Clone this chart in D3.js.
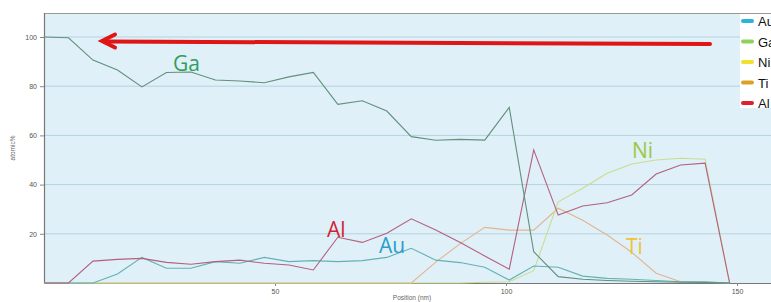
<!DOCTYPE html>
<html><head><meta charset="utf-8">
<script src="https://cdn.jsdelivr.net/npm/d3@7"></script>
<style>body{margin:0;background:#fff;}svg{display:block;}</style>
</head><body>
<svg id="c" width="771" height="302"></svg>
<script>
const positions = [0,5.3,10.6,15.9,21.2,26.5,31.8,37.1,42.4,47.7,53,58.3,63.6,68.9,74.2,79.5,84.8,90.1,95.4,100.7,106,111.3,116.6,121.9,127.2,132.5,137.8,143.1,148.4];
const gaValues = [100,99.7,90.6,86.6,79.7,85.6,85.8,82.5,82.1,81.4,83.8,85.6,72.6,74.1,69.9,59.5,58,58.4,58.1,71.4,12.7,2.6,1.5,1.0,0.7,0.5,0.3,0.2,0];
const auValues = [0,0,0,3.7,10.4,6.0,6.0,8.7,8.0,10.4,8.7,9.1,8.7,9.1,10.4,14.1,9.3,8.3,6.4,1.2,6.9,6.4,2.8,1.9,1.5,1.0,0.5,0.5,0];
const alValues = [0,0,8.9,9.6,10.0,8.4,7.6,8.7,9.3,8.0,7.3,5.3,18.6,16.5,20.2,26.1,21.5,16.5,11.0,5.6,54.1,27.6,31.3,32.6,35.8,44.3,48.0,48.7,0];
const niValues = [0,0,0,0,0,0,0,0,0,0,0,0,0,0,0,0,0,0,0.3,0.5,5.0,33,38.5,44.6,48.4,50,50.7,50.3,0];
const tiValues = [0,0,0,0,0,0,0,0,0,0,0,0,0,0,0,0,8.5,16,22.6,21.5,21.5,30.4,25.5,19.5,12.5,4,0.5,0.3,0];
const legendNames = ["Au","Ga","Ni","Ti","Al"];
const yTicks = [20,40,60,80,100];
const xTicks = [50,100,150];

const svg = d3.select("#c");
const L = 44, T = 13, R = 780, B = 283;
const x = d3.scaleLinear().domain([0,150]).range([L, L + 150*4.62]);
const y = d3.scaleLinear().domain([0,100]).range([B, 37]);

svg.append("rect").attr("x",L).attr("y",T).attr("width",R-L).attr("height",B-T).attr("fill","#dff0f9");
// grid
svg.append("g").selectAll("line").data(yTicks).join("line")
  .attr("x1",L).attr("x2",R).attr("y1",d=>y(d)).attr("y2",d=>y(d))
  .attr("stroke","#b4d3de").attr("stroke-width",1);
// top border
svg.append("line").attr("x1",L).attr("x2",R).attr("y1",T+0.5).attr("y2",T+0.5).attr("stroke","#999").attr("stroke-width",1);

// axes
const yAxis = svg.append("g").attr("transform",`translate(${L},0)`)
  .call(d3.axisLeft(y).tickValues(yTicks).tickSize(4).tickFormat(d3.format("d")));
const xAxis = svg.append("g").attr("transform",`translate(0,${B})`)
  .call(d3.axisBottom(x).tickValues(xTicks).tickSize(3).tickFormat(d3.format("d")));
[yAxis,xAxis].forEach(g=>{
  g.select(".domain").attr("stroke","#777").attr("stroke-width",1.2);
  g.selectAll(".tick line").attr("stroke","#888");
  g.selectAll("text").attr("fill","#555").attr("font-size",7).attr("font-family","Liberation Sans, Arial, sans-serif");
});
yAxis.select(".domain").attr("d",`M0.5,${T}V${B}`);
xAxis.select(".domain").attr("d",`M${L},0.5H${R}`);

svg.append("text").attr("transform","translate(15,148) rotate(-90)").attr("text-anchor","middle")
  .attr("font-size",6.5).attr("fill","#666").attr("font-family","Liberation Sans, Arial, sans-serif").text("atomic%");
svg.append("text").attr("x",412).attr("y",300).attr("text-anchor","middle")
  .attr("font-size",6.5).attr("fill","#666").attr("font-family","Liberation Sans, Arial, sans-serif").text("Position (nm)");

const series = [
  {name:"Ti", vals:tiValues, color:"#e2b58e"},
  {name:"Ni", vals:niValues, color:"#cadd8e"},
  {name:"Au", vals:auValues, color:"#62b2b4"},
  {name:"Al", vals:alValues, color:"#b4607c"},
  {name:"Ga", vals:gaValues, color:"#62907a"}
];
const line = d3.line().x((d,i)=>x(positions[i])).y(d=>y(d));
svg.append("g").selectAll("path").data(series).join("path")
  .attr("d",d=>line(d.vals)).attr("fill","none").attr("stroke",d=>d.color).attr("stroke-width",1.1);

// annotations
const ann = [
  {t:"Ga", x:173, y:71, c:"#2f9e5a"},
  {t:"Al", x:327, y:237, c:"#d42232"},
  {t:"Au", x:379, y:253, c:"#2b9dcc"},
  {t:"Ni", x:632, y:158, c:"#9cc93c"},
  {t:"Ti", x:626, y:254, c:"#f2c232"}
];
svg.append("g").selectAll("text").data(ann).join("text")
  .attr("x",d=>d.x).attr("y",d=>d.y).attr("fill",d=>d.c)
  .attr("font-size",21).attr("font-family","Open Sans, Liberation Sans, sans-serif").text(d=>d.t);

// red arrow
svg.append("path").attr("d","M710,44 L104,41.5").attr("stroke","#e01515").attr("stroke-width",4).attr("fill","none").attr("stroke-linecap","round");
svg.append("path").attr("d","M115,34.5 L102,41 L115,47.5").attr("stroke","#e01515").attr("stroke-width",4).attr("fill","none").attr("stroke-linecap","round").attr("stroke-linejoin","miter");

// legend
const legColors = {"Au":"#2ab4dc","Ga":"#8ed25a","Ni":"#f0e030","Ti":"#d9a224","Al":"#e02030"};
svg.append("rect").attr("x",740).attr("y",14).attr("width",31).attr("height",94).attr("fill","#fff");
const lg = svg.append("g").selectAll("g").data(legendNames).join("g")
  .attr("transform",(d,i)=>`translate(743,${21 + i*20.5})`);
lg.append("line").attr("x1",0).attr("x2",9).attr("y1",0).attr("y2",0).attr("stroke",d=>legColors[d]).attr("stroke-width",4).attr("stroke-linecap","round");
lg.append("text").attr("x",15).attr("y",5).attr("font-size",13).attr("fill","#111")
  .attr("font-family","Liberation Sans, Arial, sans-serif").text(d=>d);
</script>
</body></html>
